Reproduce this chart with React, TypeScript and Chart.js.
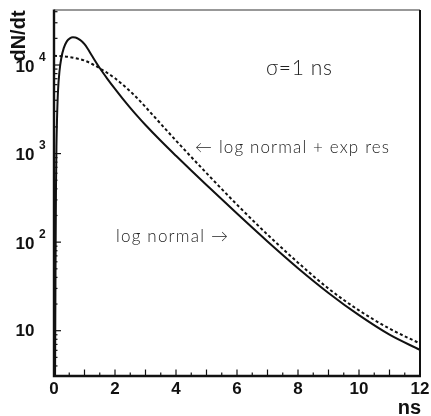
import React, { useEffect, useRef } from "react";
import { Chart, registerables } from "chart.js";

Chart.register(...registerables);

// ---- data ----
const solidT = [0.035, 0.05, 0.065, 0.08, 0.1, 0.13, 0.18, 0.24, 0.32, 0.42, 0.52, 0.62, 0.7, 0.8, 0.9, 1.0, 1.1, 1.25, 1.5, 1.75, 2.0, 2.25, 2.5, 2.75, 3.0, 3.5, 4.0, 4.5, 5.0, 6.0, 7.0, 8.0, 9.0, 10.0, 11.0, 12.0];
const solidN = [3, 50, 400, 1200, 2500, 5000, 8500, 12000, 15500, 18500, 20000, 20540, 20440, 19760, 18660, 17170, 15360, 12640, 9250, 6988, 5373, 4175, 3287, 2615, 2102, 1394, 943, 644, 442, 210, 101.7, 50.8, 26.7, 14.97, 9.02, 6.07];

const dashT = [0, 0.25, 0.5, 0.75, 1.0, 1.25, 1.5, 1.75, 2.0, 2.25, 2.5, 2.75, 3.0, 3.5, 4.0, 5.0, 6.0, 7.0, 8.0, 9.0, 10.0, 11.0, 12.0];
const dashN = [12735, 12570, 12310, 11840, 11240, 10263, 9177, 8122, 7077, 6023, 5047, 4153, 3356, 2168, 1401, 602, 265, 121.7, 58.7, 29.9, 16.96, 10.56, 7.17];

const xTickLabels = [0, 2, 4, 6, 8, 10, 12];
const yDecadeExponents = [1, 2, 3, 4];

const X_MIN = 0;
const X_MAX = 12;
const Y_MIN = 3.08;
const Y_MAX = 41800;

const LABEL_FONT = '"Liberation Sans", Arial, sans-serif';
const NOTE_FONT = 'Lato, "DejaVu Sans", sans-serif';

function spacedText(ctx: CanvasRenderingContext2D, text: string, x: number, y: number, targetW: number, font: string) {
  ctx.font = font;
  (ctx as any).letterSpacing = "0px";
  const w = ctx.measureText(text).width;
  const n = Array.from(text).length;
  const s = n > 1 ? Math.max(0, (targetW - w) / (n - 1)) : 0;
  (ctx as any).letterSpacing = s.toFixed(2) + "px";
  ctx.textAlign = "left";
  ctx.textBaseline = "middle";
  ctx.fillText(text, x, y);
  (ctx as any).letterSpacing = "0px";
}

const framePlugin = {
  id: "framePlugin",
  afterDraw(chart: any) {
    const { ctx, chartArea: a, scales } = chart;
    const xs = scales.x;
    const ys = scales.y;
    ctx.save();
    ctx.strokeStyle = "#111";
    ctx.fillStyle = "#111";

    // x ticks (inward)
    ctx.lineWidth = 1.2;
    for (let i = 0; i <= (X_MAX - X_MIN) * 2; i++) {
      const v = X_MIN + i * 0.5;
      const px = xs.getPixelForValue(v);
      const len = i % 2 === 0 ? 6.5 : 3.5;
      ctx.beginPath();
      ctx.moveTo(px, a.bottom);
      ctx.lineTo(px, a.bottom - len);
      ctx.stroke();
    }
    // y ticks (inward)
    for (let e = 0; e <= 4; e++) {
      for (let m = 1; m <= 9; m++) {
        const v = m * Math.pow(10, e);
        if (v < Y_MIN || v > Y_MAX) continue;
        const py = ys.getPixelForValue(v);
        const len = m === 1 ? 7 : 3.5;
        ctx.beginPath();
        ctx.moveTo(a.left, py);
        ctx.lineTo(a.left + len, py);
        ctx.stroke();
      }
    }

    // frame
    ctx.lineWidth = 1.2;
    ctx.strokeStyle = "#333";
    ctx.beginPath();
    ctx.moveTo(a.left, a.top);
    ctx.lineTo(a.right, a.top);
    ctx.stroke();
    ctx.lineWidth = 2;
    ctx.strokeStyle = "#111";
    ctx.beginPath();
    ctx.moveTo(a.right, a.top);
    ctx.lineTo(a.right, a.bottom);
    ctx.stroke();
    ctx.lineWidth = 2.4;
    ctx.beginPath();
    ctx.moveTo(a.left, a.top - 0.6);
    ctx.lineTo(a.left, a.bottom);
    ctx.lineTo(a.right + 1, a.bottom);
    ctx.stroke();

    // x tick labels
    ctx.font = `bold 17px ${LABEL_FONT}`;
    ctx.textAlign = "center";
    ctx.textBaseline = "middle";
    for (const v of xTickLabels) {
      ctx.fillText(String(v), xs.getPixelForValue(v), 389);
    }
    // x title
    ctx.font = `bold 20px ${LABEL_FONT}`;
    ctx.textAlign = "right";
    ctx.textBaseline = "alphabetic";
    ctx.fillText("ns", 421, 414);

    // y tick labels 10^n
    for (const e of yDecadeExponents) {
      const py = ys.getPixelForValue(Math.pow(10, e));
      ctx.font = `bold 17px ${LABEL_FONT}`;
      ctx.textAlign = "right";
      ctx.textBaseline = "middle";
      ctx.fillText("10", 34.5, py + (e === 1 ? 0.5 : 2));
      if (e > 1) {
        ctx.font = `bold 12px ${LABEL_FONT}`;
        ctx.textAlign = "left";
        ctx.fillText(String(e), 39, py - 7.5);
      }
    }

    // y title (rotated)
    ctx.save();
    ctx.translate(25, 36);
    ctx.rotate(-Math.PI / 2);
    ctx.font = `bold 20px ${LABEL_FONT}`;
    ctx.textAlign = "center";
    ctx.textBaseline = "alphabetic";
    ctx.fillText("dN/dt", 0, 0);
    ctx.restore();

    // annotations
    ctx.fillStyle = "#222";
    spacedText(ctx, "\u03c3=1 ns", 266, 68, 66, `300 21px ${NOTE_FONT}`);
    spacedText(ctx, "\u2190 log normal + exp res", 195, 148, 194, `300 17px ${NOTE_FONT}`);
    spacedText(ctx, "log normal \u2192", 116, 237, 112, `300 17px ${NOTE_FONT}`);

    ctx.restore();
  },
};

export default function App() {
  const canvasRef = useRef<HTMLCanvasElement | null>(null);

  useEffect(() => {
    document.body.style.margin = "0";
    const canvas = canvasRef.current;
    if (!canvas) return;
    const solid = solidT.map((t, i) => ({ x: t, y: solidN[i] }));
    const dashed = dashT.map((t, i) => ({ x: t, y: dashN[i] }));
    const chart = new Chart(canvas, {
      type: "line",
      data: {
        datasets: [
          {
            label: "log normal",
            data: solid,
            borderColor: "#111",
            borderWidth: 2,
            pointRadius: 0,
            cubicInterpolationMode: "monotone",
            fill: false,
            clip: 0 as any,
          },
          {
            label: "log normal + exp res",
            data: dashed,
            borderColor: "#111",
            borderWidth: 2,
            borderDash: [3, 2.5],
            pointRadius: 0,
            cubicInterpolationMode: "monotone",
            fill: false,
            clip: 0 as any,
          },
        ],
      },
      options: {
        animation: false,
        responsive: false,
        devicePixelRatio: 1,
        layout: { padding: { left: 54, right: 11, top: 10, bottom: 40 } },
        plugins: {
          legend: { display: false },
          tooltip: { enabled: false },
        },
        scales: {
          x: { type: "linear", min: X_MIN, max: X_MAX, display: false },
          y: { type: "logarithmic", min: Y_MIN, max: Y_MAX, display: false },
        },
      },
      plugins: [framePlugin],
    });
    return () => chart.destroy();
  }, []);

  return (
    <div style={{ width: 431, height: 416, background: "#fff" }}>
      <canvas ref={canvasRef} width={431} height={416} style={{ display: "block" }} />
    </div>
  );
}
